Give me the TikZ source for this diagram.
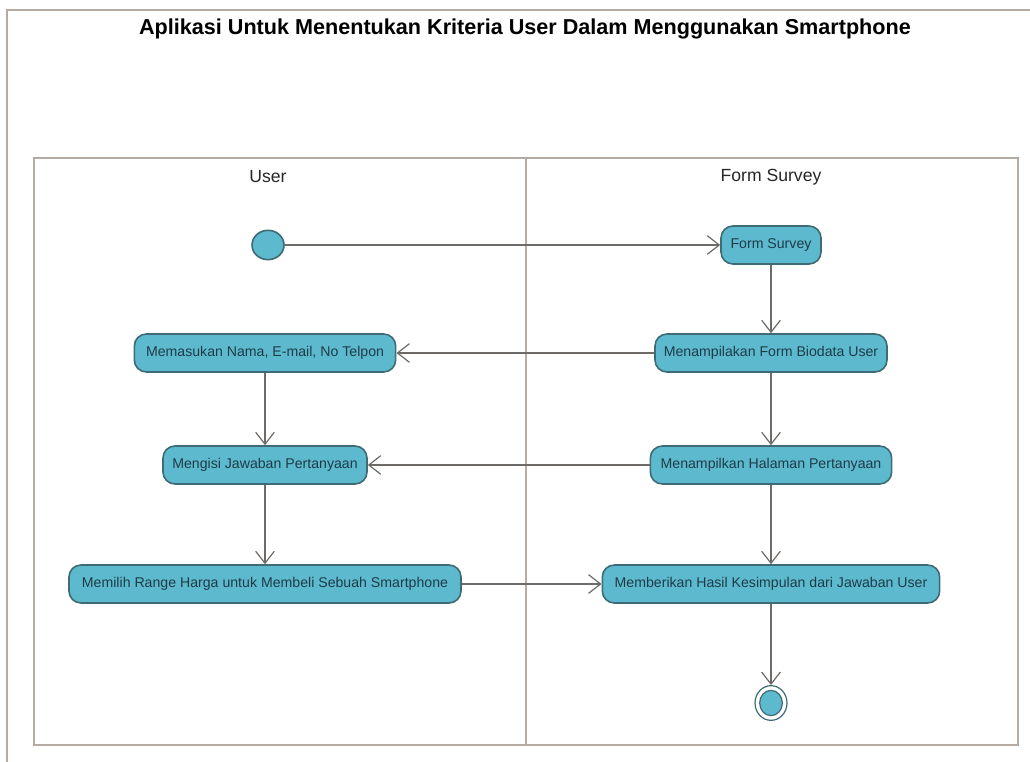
\documentclass[tikz,border=0pt]{standalone}
\usepackage{fontspec}
\setmainfont{Liberation Sans}
\usetikzlibrary{arrows.meta,shapes.geometric}
\definecolor{actfill}{HTML}{5DB9CD}
\definecolor{actdraw}{HTML}{3E6B76}
\definecolor{acttext}{HTML}{1E3C48}
\definecolor{flow}{HTML}{6E6A68}
\definecolor{lane}{HTML}{B5ABA3}
\tikzset{
  activity/.style={draw=actdraw, fill=actfill, line width=1.2pt, rounded corners=9pt,
    minimum height=28.5pt, inner xsep=4pt, text=acttext, font=\fontsize{10.6}{12}\selectfont},
  flowline/.style={draw=flow, line width=1pt, -{Straight Barb[length=9pt,width=14pt,line width=0.9pt]}},
  lanebox/.style={draw=lane, line width=1pt},
  header/.style={font=\fontsize{13.2}{15}\selectfont, text=black!85},
}
\begin{document}
\begin{tikzpicture}[x=0.75pt,y=-0.75pt]
\useasboundingbox (0,0) rectangle (1030,762);
% outer frame
\draw[lanebox] (7,762) -- (7,10) -- (1030,10);
% title
\node[font=\bfseries\fontsize{16.2}{18}\selectfont] (title) at (525,29) {Aplikasi Untuk Menentukan Kriteria User Dalam Menggunakan Smartphone};
% swimlanes
\draw[lanebox] (34,158) rectangle (1018,745);
\draw[lanebox] (526,158) -- (526,745);
\node[header] (h1) at (268,177) {User};
\node[header] (h2) at (771,177) {Form Survey};
% nodes
\node[draw=actdraw, fill=actfill, line width=1.2pt, ellipse, minimum width=24pt, minimum height=22pt, inner sep=0pt] (start) at (268,245) {};
\node[activity, minimum width=75pt] (fs) at (771,245) {Form Survey};
\node[activity, minimum width=196pt] (nama) at (265,353) {Memasukan Nama, E-mail, No Telpon};
\node[activity, minimum width=174pt] (bio) at (771,353) {Menampilakan Form Biodata User};
\node[activity, minimum width=153pt] (isi) at (265,465) {Mengisi Jawaban Pertanyaan};
\node[activity, minimum width=181pt] (hal) at (771,465) {Menampilkan Halaman Pertanyaan};
\node[activity, minimum width=294pt] (harga) at (265,584) {Memilih Range Harga untuk Membeli Sebuah Smartphone};
\node[activity, minimum width=253pt] (hasil) at (771,584) {Memberikan Hasil Kesimpulan dari Jawaban User};
\node[draw=actdraw, line width=0.9pt, ellipse, minimum width=24pt, minimum height=26pt, inner sep=0pt] (end) at (771,703) {};
\node[draw=actdraw, fill=actfill, line width=0.9pt, ellipse, minimum width=17pt, minimum height=19pt, inner sep=0pt] (endin) at (771,703) {};
% flows
\draw[flowline] (start) -- (fs);
\draw[flowline] (fs) -- (bio);
\draw[flowline] (bio) -- (nama);
\draw[flowline] (nama) -- (isi);
\draw[flowline] (bio) -- (hal);
\draw[flowline] (hal) -- (isi);
\draw[flowline] (isi) -- (harga);
\draw[flowline] (hal) -- (hasil);
\draw[flowline] (harga) -- (hasil);
\draw[flowline] (hasil) -- (end);
\end{tikzpicture}
\end{document}
